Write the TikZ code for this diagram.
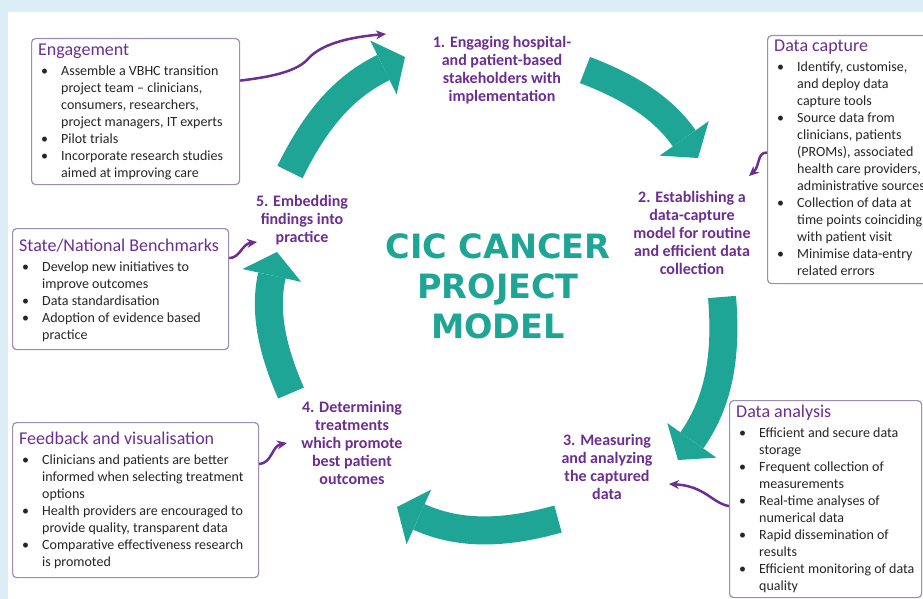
\documentclass[tikz,border=0pt]{standalone}
\usepackage{fontspec}
\setmainfont{Carlito}
\newfontfamily\titlefont{DejaVu Sans}
\usetikzlibrary{arrows.meta}
\definecolor{cycteal}{HTML}{1FA596}
\definecolor{darkpurp}{HTML}{6C2E91}
\definecolor{frameline}{HTML}{9C8DB4}
\definecolor{paleblue}{HTML}{DDEDF5}
\definecolor{bodytext}{HTML}{262626}
% bullet and hanging indent for the box lists
\newcommand{\bul}{\hspace*{3pt}\makebox[20pt][l]{\textbullet}}
\newcommand{\ind}{\hspace*{23pt}}
\newcommand{\boxhead}[1]{\rule{0pt}{15pt}{\fontsize{18}{20}\selectfont\color{darkpurp}#1}}
\tikzset{
  %Define style for the framed boxes
  infobox/.style={
    draw=frameline, line width=1.2pt,
    rounded corners=4pt,
    fill=white,
    anchor=north west,
    inner sep=0pt},
  %Define style for the box texts
  infotext/.style={
    anchor=north west,
    inner sep=0pt,
    align=left,
    text=bodytext,
    font=\fontsize{14}{17}\selectfont},
  %Define style for the step labels
  steplbl/.style={
    align=center,
    text=darkpurp,
    font=\bfseries\fontsize{16}{18}\selectfont},
  % Define the cycle arrows
  bigarrow/.style={
    cycteal,
    line width=28pt,
    -{Triangle[length=24pt,width=60pt,line width=0pt]}},
  % Define the thin purple links
  link/.style={
    darkpurp,
    line width=2.5pt,
    -{Stealth[length=10pt,width=9pt,line width=1pt]}}
}

\begin{document}
\begin{tikzpicture}[x=1pt,y=1pt]
  \clip (0,0) rectangle (923,-599);
  \fill[paleblue] (0,0) rectangle (923,-599);
  \fill[white] (8,-12) rectangle (923,-599);

  % title in the middle
  \node[align=center, text=cycteal, font=\titlefont\bfseries\fontsize{33.5}{40}\selectfont]
    (title) at (498,-286) {CIC CANCER\\PROJECT\\MODEL};

  % the five steps
  \node[steplbl] (s1) at (502,-70) {1. Engaging hospital-\\and patient-based\\stakeholders with\\implementation};
  \node[steplbl] (s2) at (692,-233) {2. Establishing a\\data-capture\\model for routine\\and efficient data\\collection};
  \node[steplbl] (s3) at (607,-467) {3. Measuring\\and analyzing\\the captured\\data};
  \node[steplbl] (s4) at (352,-443) {4. Determining\\treatments\\which promote\\best patient\\outcomes};
  \node[steplbl] (s5) at (302,-220) {5. Embedding\\findings into\\practice};

  % cycle arrows
  \coordinate (c1from) at (290,-172); \coordinate (c1to) at (405,-57);
  \coordinate (c2from) at (585,-70);  \coordinate (c2to) at (698,-158);
  \coordinate (c3from) at (722,-297); \coordinate (c3to) at (678,-460);
  \coordinate (c4from) at (558,-519); \coordinate (c4to) at (397,-507);
  \coordinate (c5from) at (291,-393); \coordinate (c5to) at (277,-252);
  \draw[bigarrow] (c1from) to[bend left=19] (c1to);
  \draw[bigarrow] (c2from) to[bend left=17] (c2to);
  \draw[bigarrow] (c3from) to[bend left=20] (c3to);
  \draw[bigarrow] (c4from) to[bend left=20] (c4to);
  \draw[bigarrow] (c5from) to[bend left=18] (c5to);

  % boxes
  \node[infobox, minimum width=208, minimum height=146] (engage) at (31,-38) {};
  \node[infotext] (engagetxt) at ([shift={(7,-2.5)}]engage.north west) {%
    \boxhead{Engagement}\\[3pt]
    \bul Assemble a VBHC transition\\
    \ind project team – clinicians,\\
    \ind consumers, researchers,\\
    \ind project managers, IT experts\\
    \bul Pilot trials\\
    \bul Incorporate research studies\\
    \ind aimed at improving care};

  \node[infobox, minimum width=170, minimum height=248] (capture) at (767,-35) {};
  \node[infotext] (capturetxt) at ([shift={(7,-1.5)}]capture.north west) {%
    \boxhead{Data capture}\\[3pt]
    \bul Identify, customise,\\
    \ind and deploy data\\
    \ind capture tools\\
    \bul Source data from\\
    \ind clinicians, patients\\
    \ind (PROMs), associated\\
    \ind health care providers,\\
    \ind administrative sources\\
    \bul Collection of data at\\
    \ind time points coinciding\\
    \ind with patient visit\\
    \bul Minimise data-entry\\
    \ind related errors};

  \node[infobox, minimum width=216, minimum height=121] (bench) at (12,-228) {};
  \node[infotext] (benchtxt) at ([shift={(7,-8.5)}]bench.north west) {%
    \boxhead{State/National Benchmarks}\\[3pt]
    \bul Develop new initiatives to\\
    \ind improve outcomes\\
    \bul Data standardisation\\
    \bul Adoption of evidence based\\
    \ind practice};

  \node[infobox, minimum width=246, minimum height=155] (feedback) at (12,-422) {};
  \node[infotext] (feedbacktxt) at ([shift={(7,-7.5)}]feedback.north west) {%
    \boxhead{Feedback and visualisation}\\[3pt]
    \bul Clinicians and patients are better\\
    \ind informed when selecting treatment\\
    \ind options\\
    \bul Health providers are encouraged to\\
    \ind provide quality, transparent data\\
    \bul Comparative effectiveness research\\
    \ind is promoted};

  \node[infobox, minimum width=192, minimum height=197] (analysis) at (729,-400) {};
  \node[infotext] (analysistxt) at ([shift={(7,-2.5)}]analysis.north west) {%
    \boxhead{Data analysis}\\[3pt]
    \bul Efficient and secure data\\
    \ind storage\\
    \bul Frequent collection of\\
    \ind measurements\\
    \bul Real-time analyses of\\
    \ind numerical data\\
    \bul Rapid dissemination of\\
    \ind results\\
    \bul Efficient monitoring of data\\
    \ind quality};

  % links from the boxes to the steps
  \coordinate (l1to) at (386,-34);
  \coordinate (l2to) at (749,-176);
  \coordinate (l3to) at (669,-484);
  \coordinate (l4to) at (287,-443);
  \coordinate (l5to) at (257,-242);
  \draw[link] ([yshift=31pt]engage.east) .. controls (270,-77) and (295,-72) .. (307,-60)
    .. controls (318,-47) and (340,-38) .. (l1to);
  \draw[link] ([yshift=7pt]capture.west) .. controls (757,-152) and (760,-166) .. (l2to);
  \draw[link] ([yshift=-7pt]analysis.west) .. controls (712,-503) and (705,-486) .. (l3to);
  \draw[link] ([yshift=36pt]feedback.east) .. controls (272,-463) and (272,-446) .. (l4to);
  \draw[link] ([yshift=31pt]bench.east) .. controls (240,-258) and (242,-244) .. (l5to);
\end{tikzpicture}
\end{document}
